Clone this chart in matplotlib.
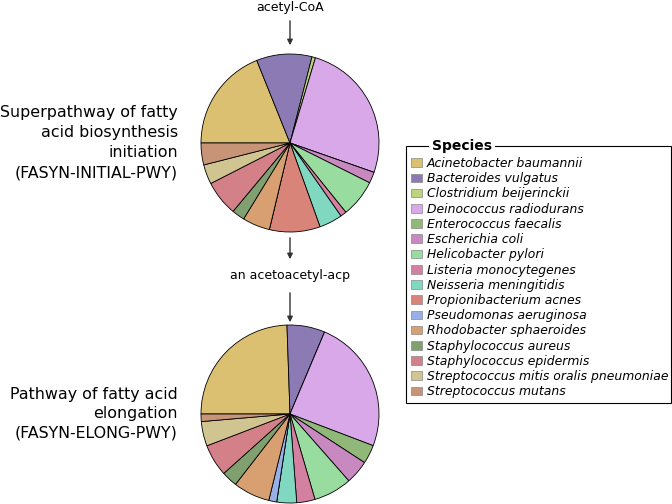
import matplotlib
matplotlib.use("Agg")
import matplotlib.pyplot as plt
from matplotlib.patches import Patch, Rectangle

species = [
    "Acinetobacter baumannii", "Bacteroides vulgatus", "Clostridium beijerinckii",
    "Deinococcus radiodurans", "Enterococcus faecalis", "Escherichia coli",
    "Helicobacter pylori", "Listeria monocytegenes", "Neisseria meningitidis",
    "Propionibacterium acnes", "Pseudomonas aeruginosa", "Rhodobacter sphaeroides",
    "Staphylococcus aureus", "Staphylococcus epidermis",
    "Streptococcus mitis oralis pneumoniae", "Streptococcus mutans",
]
colors = [
    "#dcc072", "#8c7ab4", "#bcd47c", "#d8a8e8", "#90b878", "#c888c0",
    "#98dca0", "#d480a0", "#80d8c0", "#d88478", "#98b0e8", "#d8a070",
    "#80a070", "#d48088", "#d0c490", "#c89478",
]

# share of each species (in degrees of the pie)
initiation = [68.2, 36.3, 2.3, 92.8, 0, 7.3, 24.6, 4.0, 15.2, 33.2, 0, 18.0, 8.4, 23.2, 12.8, 14.3]
elongation = [88.3, 24.9, 0, 88.2, 12.3, 15.6, 25.1, 12.0, 13.0, 0, 5.2, 24.0, 10.4, 21.0, 16.1, 4.9]

pathways = ["Superpathway of fatty\nacid biosynthesis\ninitiation\n(FASYN-INITIAL-PWY)",
            "Pathway of fatty acid\nelongation\n(FASYN-ELONG-PWY)"]
compounds = ["acetyl-CoA", "an acetoacetyl-acp"]

W, H = 672, 504
fig = plt.figure(figsize=(W / 100, H / 100), dpi=100)
ax = fig.add_axes([0, 0, 1, 1])

R = 89
centers = [(290, H - 143), (290, H - 414)]
for vals, c in zip([initiation, elongation], centers):
    ax.pie(vals, colors=colors, center=c, radius=R, startangle=180,
           counterclock=False, wedgeprops=dict(edgecolor="black", linewidth=0.6))

ax.set_xlim(0, W)
ax.set_ylim(0, H)
ax.set_aspect("equal")
ax.axis("off")

# pathway names
ax.text(178, H - 142.5, pathways[0], ha="right", va="center", fontsize=11.4, linespacing=1.42)
ax.text(178, H - 413.5, pathways[1], ha="right", va="center", fontsize=11.4, linespacing=1.36)

# compounds and arrows
ax.text(290, H - 8, compounds[0], ha="center", va="center", fontsize=9)
ax.text(290, H - 276, compounds[1], ha="center", va="center", fontsize=9)
arr = dict(arrowstyle="-|>", color="#333333", lw=1.0, mutation_scale=8)
ax.annotate("", xy=(290, H - 48), xytext=(290, H - 18), arrowprops=arr)
ax.annotate("", xy=(290, H - 262), xytext=(290, H - 235), arrowprops=arr)
ax.annotate("", xy=(290, H - 325), xytext=(290, H - 290), arrowprops=arr)

# legend
handles = [Patch(facecolor=col, edgecolor="#888888", linewidth=0.5) for col in colors]
leg = fig.legend(handles, species, loc="upper left", bbox_to_anchor=(406 / W, 1 - 152 / H),
                 frameon=False, prop=dict(style="italic", size=8.9), handlelength=0.9,
                 handleheight=0.7, handletextpad=0.4, labelspacing=0.18, borderaxespad=0)
fig.add_artist(Rectangle((406 / W, 1 - 403 / H), 265 / W, 257 / H, transform=fig.transFigure,
                         fill=False, edgecolor="black", linewidth=0.8))
fig.text(432 / W, 1 - 146 / H, "Species", ha="left", va="center", fontsize=10, fontweight="bold",
         bbox=dict(facecolor="white", edgecolor="none", pad=2))

fig.savefig("out.png", dpi=100)
